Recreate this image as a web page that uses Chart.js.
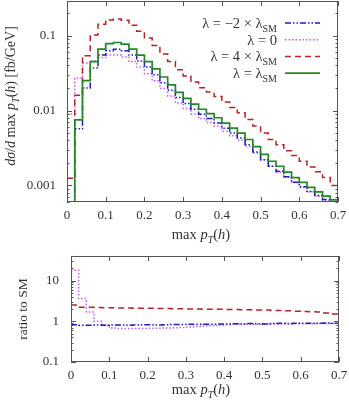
<!DOCTYPE html>
<html>
<head>
<meta charset="utf-8">
<script src="https://cdn.jsdelivr.net/npm/chart.js@4.4.0/dist/chart.umd.min.js"></script>
<style>
  html, body { margin: 0; padding: 0; background: #fff; }
  #wrap { position: relative; width: 349px; height: 401px; }
  canvas { position: absolute; left: 0; }
</style>
</head>
<body>
<div id="wrap">
  <canvas id="main" width="349" height="245" style="top:0"></canvas>
  <canvas id="ratio" width="349" height="156" style="top:245px"></canvas>
</div>
<script>
// bin edges of max pT(h) (35 bins of 0.02)
const binEdges = [0, 0.02, 0.04, 0.06, 0.08, 0.10, 0.12, 0.14, 0.16, 0.18, 0.20, 0.22, 0.24, 0.26, 0.28,
  0.30, 0.32, 0.34, 0.36, 0.38, 0.40, 0.42, 0.44, 0.46, 0.48, 0.50, 0.52, 0.54, 0.56, 0.58, 0.60,
  0.62, 0.64, 0.66, 0.68, 0.70];

// dsigma/dmax pT [fb/GeV], one value per bin
const lamSM = [0.0005, 0.0075, 0.025, 0.045, 0.066, 0.078, 0.081, 0.077, 0.066, 0.055, 0.045, 0.036,
  0.028, 0.022, 0.0175, 0.0145, 0.0122, 0.0104, 0.0091, 0.0080, 0.0068, 0.0058, 0.0050, 0.0041,
  0.0033, 0.0026, 0.0021, 0.0018, 0.0015, 0.00127, 0.0011, 0.00094, 0.00082, 0.00072, 0.00064];
const lamMinus2 = [0.0004, 0.0057, 0.020, 0.037, 0.055, 0.063, 0.066, 0.063, 0.055, 0.046, 0.038, 0.030,
  0.0235, 0.0186, 0.0149, 0.0124, 0.0104, 0.0089, 0.0078, 0.0068, 0.0058, 0.0050, 0.0043, 0.0035,
  0.0028, 0.0022, 0.0018, 0.00154, 0.0013, 0.0011, 0.00096, 0.00083, 0.00073, 0.00065, 0.00058];
const lamZero = [0.009, 0.027, 0.043, 0.046, 0.051, 0.055, 0.055, 0.052, 0.045, 0.038, 0.031, 0.025,
  0.0196, 0.0156, 0.0126, 0.0106, 0.0090, 0.0078, 0.0069, 0.0062, 0.0053, 0.0046, 0.0040, 0.0033,
  0.0027, 0.0022, 0.0018, 0.0015, 0.00128, 0.00109, 0.00094, 0.00082, 0.00072, 0.00063, 0.00056];
const lamPlus4 = [0.00125, 0.016, 0.054, 0.102, 0.142, 0.162, 0.167, 0.160, 0.138, 0.114, 0.093, 0.074,
  0.057, 0.045, 0.035, 0.029, 0.0240, 0.0202, 0.0176, 0.0154, 0.0130, 0.0110, 0.0093, 0.0076,
  0.0062, 0.0050, 0.0041, 0.0035, 0.0029, 0.0025, 0.0021, 0.00176, 0.00152, 0.00127, 0.00100];

// ratio to SM, one value per bin
const ratioMinus2 = [0.82, 0.80, 0.80, 0.81, 0.80, 0.81, 0.81, 0.80, 0.81, 0.82, 0.82, 0.81, 0.82, 0.83,
  0.83, 0.84, 0.84, 0.85, 0.85, 0.86, 0.86, 0.87, 0.86, 0.88, 0.87, 0.86, 0.88, 0.89, 0.88, 0.89,
  0.90, 0.89, 0.90, 0.91, 0.90];
const ratioZero = [18, 3.6, 1.7, 1.0, 0.8, 0.68, 0.66, 0.66, 0.66, 0.66, 0.67, 0.67, 0.68, 0.69, 0.70,
  0.72, 0.74, 0.76, 0.78, 0.80, 0.82, 0.83, 0.84, 0.85, 0.85, 0.85, 0.86, 0.86, 0.86, 0.87, 0.87,
  0.87, 0.88, 0.88, 0.88];
const ratioPlus4 = [2.5, 2.2, 2.2, 2.18, 2.16, 2.15, 2.13, 2.12, 2.1, 2.09, 2.08, 2.06, 2.05, 2.04, 2.02,
  2.0, 1.99, 1.98, 1.97, 1.96, 1.95, 1.94, 1.93, 1.92, 1.9, 1.88, 1.85, 1.83, 1.8, 1.77, 1.74,
  1.71, 1.68, 1.6, 1.5];

// ticks
const xTickValues = [0, 0.1, 0.2, 0.3, 0.4, 0.5, 0.6, 0.7];
const xTickLabels = ['0', '0.1', '0.2', '0.3', '0.4', '0.5', '0.6', '0.7'];
const mainYTicks = [0.001, 0.01, 0.1];
const mainYLabels = ['0.001', '0.01', '0.1'];
const ratioYTicks = [0.1, 1, 10];
const ratioYLabels = ['0.1', '1', '10'];

const SERIF = '"Liberation Serif", "DejaVu Serif", serif';
const TXT = '#333';
const FRAME = '#555';

const styles = {
  minus2: { color: '#1f1fb0', dash: [6, 2, 1.5, 2, 1.5, 2], width: 1.5 },
  zero:   { color: '#c25ef2', dash: [1.5, 2], width: 1.5 },
  plus4:  { color: '#b0242a', dash: [6, 4], width: 1.5 },
  sm:     { color: '#23862a', dash: [], width: 1.7 }
};

const legendRows = [
  { key: 'minus2', runs: [{ t: 'λ = −2 × λ' }, { t: 'SM', sub: true }] },
  { key: 'zero',   runs: [{ t: 'λ = 0' }] },
  { key: 'plus4',  runs: [{ t: 'λ = 4 × λ' }, { t: 'SM', sub: true }] },
  { key: 'sm',     runs: [{ t: 'λ = λ' }, { t: 'SM', sub: true }] }
];

const xTitle = [{ t: 'max ' }, { t: 'p', it: true }, { t: 'T', it: true, sub: true }, { t: '(' }, { t: 'h', it: true }, { t: ')' }];
const yTitleMain = [{ t: 'dσ', it: true }, { t: '/' }, { t: 'd', it: true }, { t: ' max ' }, { t: 'p', it: true },
  { t: 'T', it: true, sub: true }, { t: '(' }, { t: 'h', it: true }, { t: ')' }, { t: ' [fb/GeV]' }];
const yTitleRatio = [{ t: 'ratio to SM' }];

function steps(vals) {
  return binEdges.map((x, i) => ({ x: x, y: vals[Math.min(i, vals.length - 1)] }));
}

function ds(key, vals, order) {
  const s = styles[key];
  return {
    key: key, data: steps(vals), order: order,
    borderColor: s.color, borderDash: s.dash, borderWidth: s.width,
    stepped: 'before', pointRadius: 0, fill: false
  };
}

function drawRich(ctx, runs, x, y, size, align) {
  const fontOf = r => (r.it ? 'italic ' : '') + (r.sub ? Math.round(size * 0.72) : size) + 'px ' + SERIF;
  let w = 0;
  runs.forEach(r => { ctx.font = fontOf(r); w += ctx.measureText(r.t).width; });
  let cx = align === 'right' ? x - w : align === 'center' ? x - w / 2 : x;
  ctx.textAlign = 'left';
  ctx.textBaseline = 'alphabetic';
  runs.forEach(r => {
    ctx.font = fontOf(r);
    ctx.fillText(r.t, cx, y + (r.sub ? size * 0.25 : 0));
    cx += ctx.measureText(r.t).width;
  });
}

// frame box + inward ticks + titles
function framePlugin(opts) {
  return {
    id: 'frame',
    afterDraw(chart) {
      const ctx = chart.ctx, a = chart.chartArea;
      const xs = chart.scales.x, ys = chart.scales.y;
      ctx.save();
      ctx.strokeStyle = FRAME;
      ctx.lineWidth = 1;
      ctx.setLineDash([]);
      ctx.strokeRect(a.left + 0.5, a.top + 0.5, a.right - a.left - 1, a.bottom - a.top - 1);
      ctx.beginPath();
      xTickValues.forEach(v => {
        const px = Math.round(xs.getPixelForValue(v)) + 0.5;
        ctx.moveTo(px, a.bottom); ctx.lineTo(px, a.bottom - 5);
        ctx.moveTo(px, a.top); ctx.lineTo(px, a.top + 5);
      });
      const k0 = Math.floor(Math.log10(ys.min)), k1 = Math.ceil(Math.log10(ys.max));
      for (let k = k0; k <= k1; k++) {
        for (let m = 1; m <= 9; m++) {
          const v = m * Math.pow(10, k);
          if (v < ys.min || v > ys.max) continue;
          const py = Math.round(ys.getPixelForValue(v)) + 0.5;
          const len = m === 1 ? 5 : 2.5;
          ctx.moveTo(a.left, py); ctx.lineTo(a.left + len, py);
          ctx.moveTo(a.right, py); ctx.lineTo(a.right - len, py);
        }
      }
      ctx.stroke();

      ctx.fillStyle = TXT;
      drawRich(ctx, xTitle, opts.xTitleX, opts.xTitleY, 14.5, 'center');
      ctx.translate(opts.yTitleX, opts.yTitleY);
      ctx.rotate(-Math.PI / 2);
      drawRich(ctx, opts.yTitle, 0, 0, opts.ySize, 'center');
      ctx.restore();
    }
  };
}

const legendPlugin = {
  id: 'hhLegend',
  afterDraw(chart) {
    const ctx = chart.ctx;
    ctx.save();
    legendRows.forEach((row, i) => {
      const y = 23 + i * 16.7;
      const s = styles[row.key];
      ctx.fillStyle = TXT;
      drawRich(ctx, row.runs, 277, y + 5, 14.5, 'right');
      ctx.strokeStyle = s.color;
      ctx.lineWidth = s.width;
      ctx.setLineDash(s.dash);
      ctx.beginPath();
      ctx.moveTo(285, y); ctx.lineTo(320, y);
      ctx.stroke();
    });
    ctx.restore();
  }
};

function noPad(s) {
  s.paddingTop = 0; s.paddingBottom = 0; s.paddingLeft = 0; s.paddingRight = 0;
}

function scalesFor(yMin, yMax, yTicks, yLabels, yWidth, xHeight, yPad, xPad) {
  return {
    x: {
      type: 'linear', min: 0, max: 0.7,
      grid: { display: false, drawTicks: false }, border: { display: false },
      afterBuildTicks: s => { s.ticks = xTickValues.map(v => ({ value: v })); },
      ticks: {
        callback: (v, i) => xTickLabels[i], maxRotation: 0, autoSkip: false,
        color: TXT, padding: xPad, font: { family: SERIF, size: 13 }
      },
      afterFit: s => { s.height = xHeight; noPad(s); }
    },
    y: {
      type: 'logarithmic', min: yMin, max: yMax,
      grid: { display: false, drawTicks: false }, border: { display: false },
      afterBuildTicks: s => { s.ticks = yTicks.map(v => ({ value: v })); },
      ticks: {
        callback: (v, i) => yLabels[i], autoSkip: false,
        color: TXT, padding: yPad, font: { family: SERIF, size: 13 }
      },
      afterFit: s => { s.width = yWidth; noPad(s); }
    }
  };
}

new Chart(document.getElementById('main'), {
  type: 'line',
  data: {
    datasets: [
      ds('sm', lamSM, 0),
      ds('plus4', lamPlus4, 1),
      ds('minus2', lamMinus2, 2),
      ds('zero', lamZero, 3)
    ]
  },
  options: {
    responsive: false, animation: false,
    layout: { padding: { left: 0, right: 11, top: 1, bottom: 0 } },
    plugins: { legend: { display: false }, tooltip: { enabled: false } },
    scales: scalesFor(0.0006, 0.29, mainYTicks, mainYLabels, 67, 43, 11, 6)
  },
  plugins: [framePlugin({ xTitleX: 201, xTitleY: 239, yTitleX: 15, yTitleY: 96, yTitle: yTitleMain, ySize: 14 }), legendPlugin]
});

new Chart(document.getElementById('ratio'), {
  type: 'line',
  data: {
    datasets: [
      ds('plus4', ratioPlus4, 1),
      ds('minus2', ratioMinus2, 2),
      ds('zero', ratioZero, 3)
    ]
  },
  options: {
    responsive: false, animation: false,
    layout: { padding: { left: 0, right: 10, top: 11, bottom: 0 } },
    plugins: { legend: { display: false }, tooltip: { enabled: false } },
    scales: scalesFor(0.1, 40, ratioYTicks, ratioYLabels, 71, 39, 12, 6)
  },
  plugins: [framePlugin({ xTitleX: 201, xTitleY: 149, yTitleX: 27, yTitleY: 64, yTitle: yTitleRatio, ySize: 13.5 })]
});
</script>
</body>
</html>
